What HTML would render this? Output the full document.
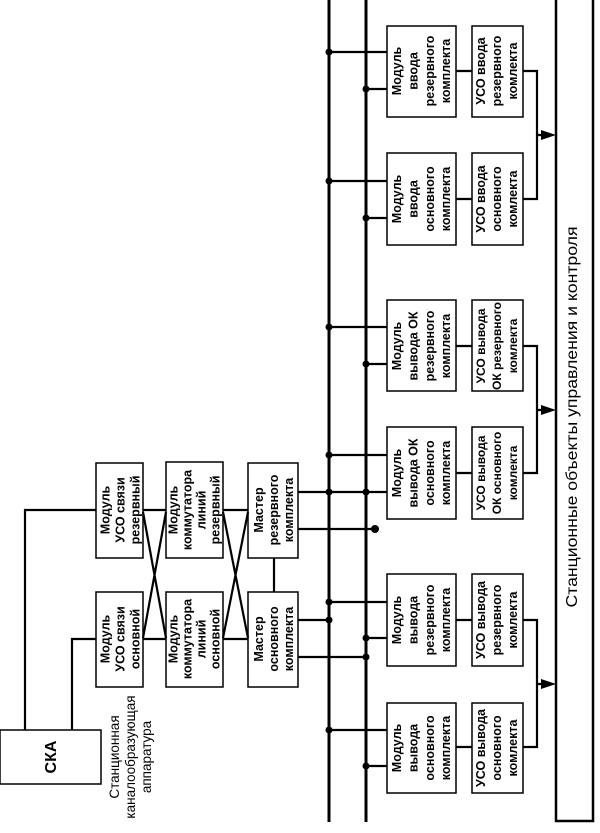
<!DOCTYPE html>
<html><head><meta charset="utf-8"><style>
html,body{margin:0;padding:0;background:#fff;}
svg{display:block;}
text{font-family:"Liberation Sans",Arial,sans-serif;fill:#000;}
.b{font-weight:bold;font-size:12.5px;}
</style></head><body>
<svg width="600" height="833" viewBox="0 0 600 833" xmlns="http://www.w3.org/2000/svg">
<g fill="none" stroke="#000">
<line x1="329" y1="0" x2="329" y2="822" stroke-width="3"/>
<line x1="366" y1="0" x2="366" y2="822" stroke-width="3"/>
<rect x="556" y="-5" width="37" height="826" stroke-width="2.5"/>
<g stroke-width="1.5">
<rect x="387" y="26" width="69" height="91"/><rect x="472" y="26" width="51" height="91"/>
<rect x="387" y="153" width="69" height="92"/><rect x="472" y="153" width="51" height="92"/>
<rect x="387" y="300" width="69" height="91"/><rect x="472" y="300" width="51" height="91"/>
<rect x="387" y="427" width="69" height="92"/><rect x="472" y="427" width="51" height="92"/>
<rect x="387" y="574" width="69" height="92"/><rect x="472" y="574" width="51" height="92"/>
<rect x="387" y="703" width="69" height="90"/><rect x="472" y="703" width="51" height="90"/>
<rect x="0" y="730" width="101" height="54"/>
<rect x="96" y="463" width="47" height="95"/><rect x="96" y="592" width="47" height="95"/>
<rect x="166" y="462" width="57" height="96"/><rect x="166" y="592" width="57" height="95"/>
<rect x="248" y="463" width="50" height="95"/><rect x="248" y="592" width="50" height="95"/>
</g>
<g stroke-width="2.2">
<path d="M329 52H387M366 89H387M329 181H387M366 218H387M329 327H387M366 364H387M329 455H387M298 492H387M298 529H375M329 602H387M298 620H329M366 638H387M298 657H366M329 730H387M366 766H387"/>
<path d="M456 71H472M456 199H472M456 346H472M456 473H472M456 620H472M456 747H472"/>
<path d="M523 71H537V199H523M537 135H545M523 346H537V473H523M537 410H545M523 620H537V747H523M537 684H545"/>
<path d="M25 730V510H96M72 730V639H96M143 510H166M143 639H166M143 512L166 638M143 638L166 512M223 510H248M223 639H248M223 512L248 638M223 638L248 512M274 558V592"/>
</g>
</g>
<g fill="#000">
<circle cx="329" cy="52" r="3.5"/><circle cx="366" cy="89" r="3.5"/>
<circle cx="329" cy="181" r="3.5"/><circle cx="366" cy="218" r="3.5"/>
<circle cx="329" cy="327" r="3.5"/><circle cx="366" cy="364" r="3.5"/>
<circle cx="329" cy="455" r="3.5"/><circle cx="329" cy="492" r="3.5"/><circle cx="366" cy="492" r="3.5"/>
<circle cx="375" cy="529" r="4"/>
<circle cx="329" cy="602" r="3.5"/><circle cx="329" cy="620" r="3.5"/><circle cx="366" cy="638" r="3.5"/><circle cx="366" cy="657" r="3.5"/>
<circle cx="329" cy="730" r="3.5"/><circle cx="366" cy="766" r="3.5"/>
<polygon points="556,135 541,130 541,140"/>
<polygon points="556,410 541,405 541,415"/>
<polygon points="556,684 541,679 541,689"/>
</g>
<g class="b" text-anchor="middle">
<text transform="translate(422,71) rotate(-90)"><tspan x="0" y="-21">Модуль</tspan><tspan x="0" y="-4.5">ввода</tspan><tspan x="0" y="12">резервного</tspan><tspan x="0" y="28">комплекта</tspan></text>
<text transform="translate(497,71) rotate(-90)"><tspan x="0" y="-12">УСО ввода</tspan><tspan x="0" y="4">резервного</tspan><tspan x="0" y="20">комлекта</tspan></text>
<text transform="translate(422,199) rotate(-90)"><tspan x="0" y="-21">Модуль</tspan><tspan x="0" y="-4.5">ввода</tspan><tspan x="0" y="12">основного</tspan><tspan x="0" y="28">комплекта</tspan></text>
<text transform="translate(497,199) rotate(-90)"><tspan x="0" y="-12">УСО ввода</tspan><tspan x="0" y="4">основного</tspan><tspan x="0" y="20">комлекта</tspan></text>
<text transform="translate(422,346) rotate(-90)"><tspan x="0" y="-21">Модуль</tspan><tspan x="0" y="-4.5">вывода ОК</tspan><tspan x="0" y="12">резервного</tspan><tspan x="0" y="28">комплекта</tspan></text>
<text transform="translate(497,346) rotate(-90)" style="font-size:12px"><tspan x="0" y="-12">УСО вывода</tspan><tspan x="0" y="4">ОК резервного</tspan><tspan x="0" y="20">комлекта</tspan></text>
<text transform="translate(422,473) rotate(-90)"><tspan x="0" y="-21">Модуль</tspan><tspan x="0" y="-4.5">вывода ОК</tspan><tspan x="0" y="12">основного</tspan><tspan x="0" y="28">комплекта</tspan></text>
<text transform="translate(497,473) rotate(-90)" style="font-size:12px"><tspan x="0" y="-12">УСО вывода</tspan><tspan x="0" y="4">ОК основного</tspan><tspan x="0" y="20">комлекта</tspan></text>
<text transform="translate(422,620) rotate(-90)"><tspan x="0" y="-21">Модуль</tspan><tspan x="0" y="-4.5">вывода</tspan><tspan x="0" y="12">резервного</tspan><tspan x="0" y="28">комплекта</tspan></text>
<text transform="translate(497,620) rotate(-90)"><tspan x="0" y="-12">УСО вывода</tspan><tspan x="0" y="4">резервного</tspan><tspan x="0" y="20">комлекта</tspan></text>
<text transform="translate(422,748) rotate(-90)"><tspan x="0" y="-21">Модуль</tspan><tspan x="0" y="-4.5">вывода</tspan><tspan x="0" y="12">основного</tspan><tspan x="0" y="28">комплекта</tspan></text>
<text transform="translate(497,748) rotate(-90)"><tspan x="0" y="-12">УСО вывода</tspan><tspan x="0" y="4">основного</tspan><tspan x="0" y="20">комлекта</tspan></text>
<text transform="translate(119.5,510) rotate(-90)"><tspan x="0" y="-10">Модуль</tspan><tspan x="0" y="5">УСО связи</tspan><tspan x="0" y="20">резервный</tspan></text>
<text transform="translate(119.5,639) rotate(-90)"><tspan x="0" y="-10">Модуль</tspan><tspan x="0" y="5">УСО связи</tspan><tspan x="0" y="20">основной</tspan></text>
<text transform="translate(194.5,510) rotate(-90)"><tspan x="0" y="-17">Модуль</tspan><tspan x="0" y="-3">коммутатора</tspan><tspan x="0" y="11">линий</tspan><tspan x="0" y="25">резервный</tspan></text>
<text transform="translate(194.5,639) rotate(-90)"><tspan x="0" y="-17">Модуль</tspan><tspan x="0" y="-3">коммутатора</tspan><tspan x="0" y="11">линий</tspan><tspan x="0" y="25">основной</tspan></text>
<text transform="translate(273,510) rotate(-90)"><tspan x="0" y="-10">Мастер</tspan><tspan x="0" y="5">резервного</tspan><tspan x="0" y="20">комплекта</tspan></text>
<text transform="translate(273,639) rotate(-90)"><tspan x="0" y="-10">Мастер</tspan><tspan x="0" y="5">основного</tspan><tspan x="0" y="20">комплекта</tspan></text>
<text transform="translate(56,757) rotate(-90)" style="font-size:16px">СКА</text>
</g>
<g text-anchor="middle" style="font-size:13.5px">
<text transform="translate(115,757) rotate(-90)"><tspan x="0" y="4">Станционная</tspan><tspan x="0" y="20">каналообразующая</tspan><tspan x="0" y="36">аппаратура</tspan></text>
<text transform="translate(577,417) rotate(-90)" style="font-size:16px" textLength="381" lengthAdjust="spacingAndGlyphs">Станционные объекты управления и контроля</text>
</g>
</svg>
</body></html>
